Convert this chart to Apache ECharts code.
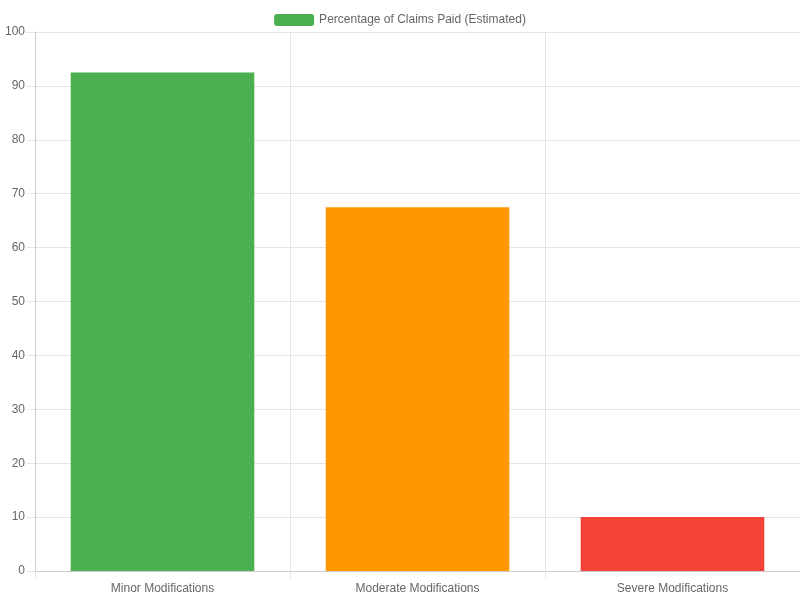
<!DOCTYPE html>
<html>
<head>
<meta charset="utf-8">
<script src="https://cdn.jsdelivr.net/npm/echarts@6/dist/echarts.min.js"></script>
<style>html,body{margin:0;padding:0;background:#fff}#chart{width:800px;height:600px}</style>
</head>
<body>
<div id="chart"></div>
<script>
const categories = ["Minor Modifications", "Moderate Modifications", "Severe Modifications"];
const values = [92.5, 67.5, 10];
const barColors = ["#4caf50", "#ff9800", "#f44336"];
const seriesName = "Percentage of Claims Paid (Estimated)";

const chart = echarts.init(document.getElementById("chart"), null, { renderer: "canvas" });
const grid = { color: "#e5e5e5" };
const label = { color: "#666", fontFamily: "Liberation Sans, Arial", fontSize: 12 };

chart.setOption({
  animation: false,
  textStyle: { fontFamily: "Liberation Sans, Arial" },
  legend: {
    top: 9, left: "center", itemWidth: 40, itemHeight: 12, itemGap: 6,
    textStyle: label,
    data: [{ name: seriesName, itemStyle: { color: barColors[0] } }]
  },
  grid: { left: 35, right: 0, top: 32, bottom: 29, containLabel: false },
  xAxis: {
    type: "category",
    data: categories,
    axisLine: { lineStyle: { color: "#ccc" } },
    axisTick: { show: true, length: 8, lineStyle: { color: "#e5e5e5" } },
    axisLabel: Object.assign({ margin: 12 }, label),
    splitLine: { show: true, lineStyle: grid }
  },
  yAxis: {
    type: "value", min: 0, max: 100, interval: 10,
    axisLine: { show: true, lineStyle: { color: "#ccc" } },
    axisTick: { show: true, length: 8, lineStyle: { color: "#e5e5e5" } },
    axisLabel: Object.assign({ margin: 10 }, label),
    splitLine: { lineStyle: grid }
  },
  series: [{
    name: seriesName,
    type: "bar",
    barCategoryGap: "28%",
    data: values.map((v, i) => ({ value: v, itemStyle: { color: barColors[i] } }))
  }]
});
</script>
</body>
</html>
